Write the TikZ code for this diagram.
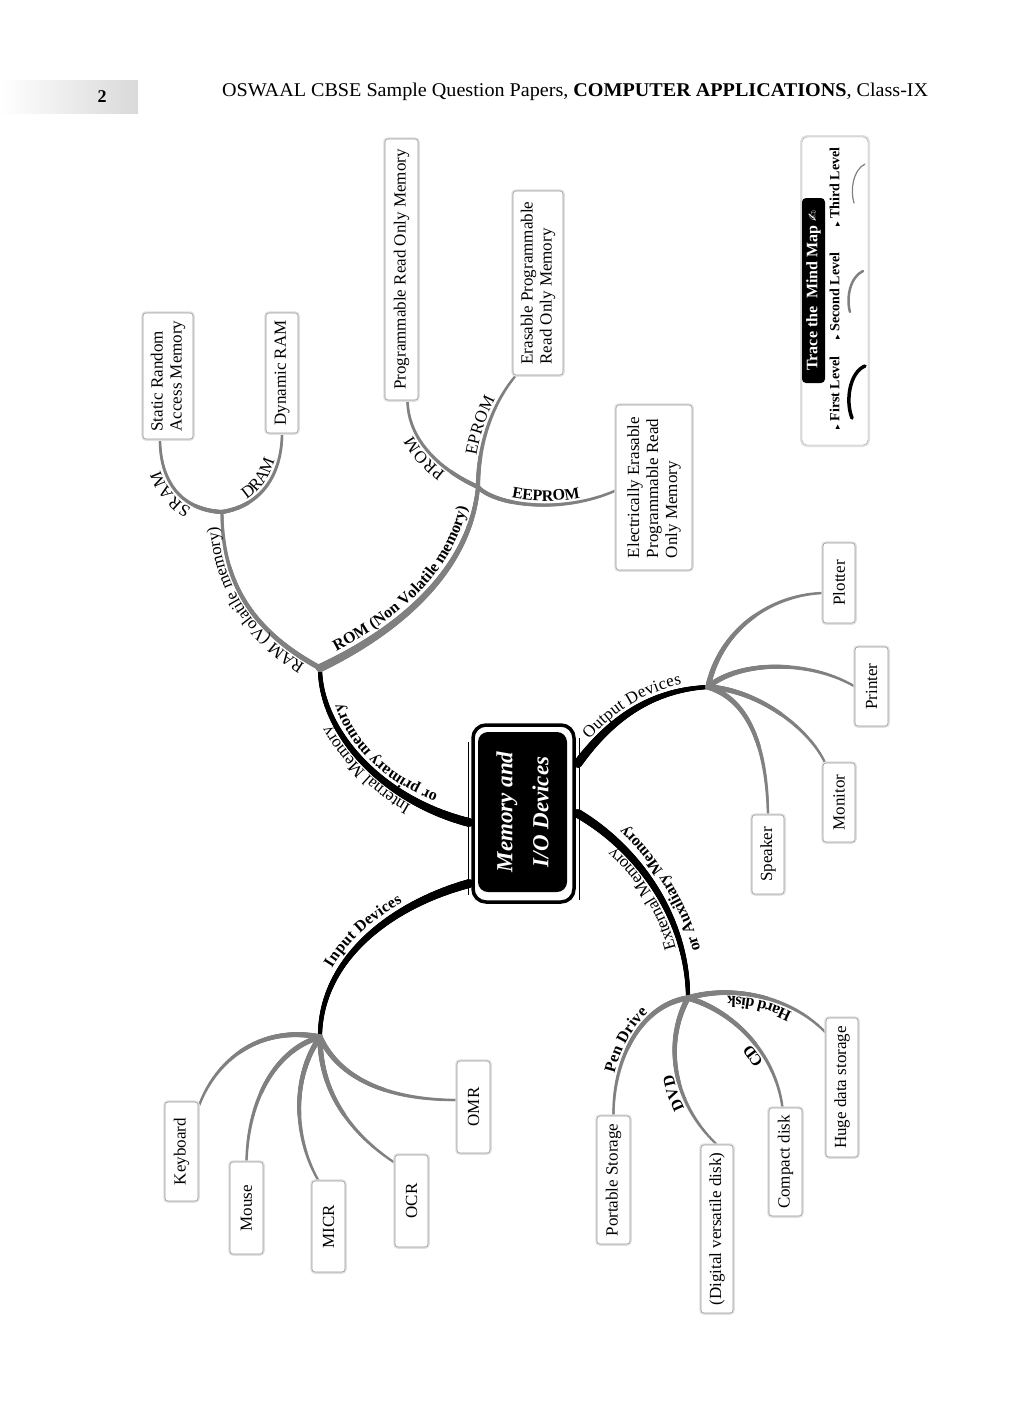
\documentclass[tikz,border=0pt]{standalone}
\usepackage{fontspec}
\usepackage{graphicx}
\setmainfont{Liberation Serif}
\newfontfamily\symfont{DejaVu Sans}
\usetikzlibrary{decorations.text,decorations.markings,calc}
\pgfdeclarelayer{bg}
\pgfsetlayers{bg,main}
\newcommand\lblf{\fontsize{17}{17}\selectfont}
\newcommand\lbld{\bfseries\fontsize{16}{16}\selectfont}
\begin{document}
\begin{tikzpicture}[x=1pt,y=-1pt,
  box/.style={draw=black!40, line width=0.6pt, fill=white, rounded corners=3pt, rotate=90,
    inner sep=0pt, align=center, font=\fontsize{17}{19}\selectfont,
    preaction={draw=black!12, line width=3.5pt}},
  lbox/.style={box, align=left},
  taper/.style n args={3}{decorate, decoration={markings,
      mark=between positions 0 and 1 step 0.8pt with {%
        \pgfmathsetmacro\tprad{#1+(#2-#1)*(\pgfkeysvalueof{/pgf/decoration/mark info/distance from start})/(\pgfdecoratedpathlength)}%
        \fill[#3] (0,0) circle[radius=\tprad pt];}}},
  bbr/.style={taper={4.5}{2.1}{black}},
  gbr/.style={taper={2.7}{1.7}{black!50}},
  rbr/.style={taper={4.2}{2.1}{black!50}},
  tbr/.style={taper={2.2}{1.4}{black!50}},
  fbr/.style={taper={2.8}{1.3}{black!50}},
  pathlbl/.style n args={3}{decorate, decoration={text along path, text={|#1|#2}, text align={center}, raise=#3}},
  pathlblr/.style n args={4}{decorate, decoration={text along path, text={|#1|#2}, text align={center, right indent=#4}, raise=#3}}
]
\useasboundingbox (0,0) rectangle (1024,1401);
\begin{pgfonlayer}{bg}
\fill[white] (0,0) rectangle (1024,1401);
\end{pgfonlayer}

% ---------- header ----------
\shade[left color=white, right color=black!15] (0,80) rectangle (138,113);
\node[font=\bfseries\fontsize{18}{18}\selectfont, inner sep=0, anchor=base] (pgno) at (102,102) {2};
\node[anchor=base west, inner sep=0] (hdr) at (222,96)
  {\resizebox{706pt}{13.5pt}{OSWAAL CBSE Sample Question Papers, \textbf{COMPUTER APPLICATIONS}, Class-IX}};

% ---------- junctions ----------
\coordinate (P1) at (320,668);
\coordinate (P2) at (478,487);
\coordinate (P3) at (222,512);
\coordinate (Q) at (708,687);
\coordinate (R) at (688,998);
\coordinate (S) at (320,1037);

% ---------- centre ----------
\node[draw=black, line width=3.5pt, fill=white, rounded corners=13pt, minimum width=101, minimum height=177, inner sep=0] (center) at (523.5,813.5) {};
\node[fill=black, rounded corners=10pt, minimum width=89, minimum height=160, inner sep=0] (core) at (522.5,812) {};
\node[rotate=90, text=white, align=center, font=\bfseries\itshape\fontsize{23}{36}\selectfont, inner sep=0] (ctext) at (core) {Memory and\\I/O Devices};
\draw[line width=1pt] (468,742) -- (468,895);
\draw[line width=1pt] (579,738) -- (579,900);

% ---------- boxes ----------
\node[lbox, minimum width=126, minimum height=50] (sram) at (168,376) {Static Random\\Access Memory};
\node[box, minimum width=120, minimum height=32] (dram) at (282,373) {Dynamic RAM};
\node[box, minimum width=261, minimum height=33] (prom) at (401.5,269.5) {Programmable Read Only Memory};
\node[lbox, minimum width=184, minimum height=50] (eprom) at (538,283) {Erasable Programmable\\Read Only Memory};
\node[lbox, minimum width=165, minimum height=76] (eeprom) at (654,487.5) {Electrically Erasable\\Programmable Read\\Only Memory};
\node[box, minimum width=80, minimum height=32] (plotter) at (839,583) {Plotter};
\node[box, minimum width=79, minimum height=33] (printer) at (871.5,686.5) {Printer};
\node[box, minimum width=79, minimum height=32] (monitor) at (839,802.5) {Monitor};
\node[box, minimum width=79, minimum height=32] (speaker) at (768,854.5) {Speaker};
\node[box, minimum width=128, minimum height=33] (portable) at (613.5,1180) {Portable Storage};
\node[box, minimum width=168, minimum height=32] (digital) at (717,1229) {(Digital versatile disk)};
\node[box, minimum width=108, minimum height=33] (compact) at (785.5,1162) {Compact disk};
\node[box, minimum width=139, minimum height=32] (huge) at (842,1087.5) {Huge data storage};
\node[box, minimum width=99, minimum height=33] (kbd) at (181.5,1151.5) {Keyboard};
\node[box, minimum width=92, minimum height=33] (mouse) at (246.5,1208) {Mouse};
\node[box, minimum width=91, minimum height=33] (micr) at (328.5,1226.5) {MICR};
\node[box, minimum width=92, minimum height=33] (ocr) at (411.5,1201) {OCR};
\node[box, minimum width=92, minimum height=33] (omr) at (473.5,1107) {OMR};

% attach points
\coordinate (ci) at ($(center.west)+(-2,9)$);
\coordinate (cin) at ($(center.west)+(-2,70)$);
\coordinate (cout) at ($(center.east)+(2,-50)$);
\coordinate (cext) at ($(center.east)+(2,0)$);
\coordinate (sramE) at ($(sram.west)+(-8,0)$);
\coordinate (dramE) at (dram.west);
\coordinate (promE) at ($(prom.west)+(6,0)$);
\coordinate (epromE) at ($(eprom.west)+(-22,0)$);
\coordinate (eepromE) at ($(eeprom.north)+(0,3)$);
\coordinate (plotE) at ($(plotter.north)+(0,10)$);
\coordinate (printE) at (printer.north);
\coordinate (monE) at ($(monitor.east)+(-14,0)$);
\coordinate (spkE) at (speaker.east);
\coordinate (portE) at (portable.east);
\coordinate (digE) at (digital.east);
\coordinate (compE) at ($(compact.east)+(-3,0)$);
\coordinate (hugeE) at ($(huge.north east)+(0,15)$);
\coordinate (kbdE) at ($(kbd.south east)+(0,6)$);
\coordinate (mouseE) at (mouse.east);
\coordinate (micrE) at ($(micr.east)+(-10,0)$);
\coordinate (ocrE) at ($(ocr.north east)+(0,8)$);
\coordinate (omrE) at ($(omr.north)+(0,-7)$);
% baselines (parallel to the branches) for the branch labels
\coordinate (imA) at (466.6,827.8);
\coordinate (imB) at (314,668);
\coordinate (ipA) at (472,805.5);
\coordinate (ipB) at (337,668);
\coordinate (emA) at (682,998);
\coordinate (emB) at (573.9,818.2);
\coordinate (axA) at (707,998);
\coordinate (axB) at (586.7,796.7);
\coordinate (ramA) at (317.8,672);
\coordinate (ramB) at (217.5,512);
\coordinate (romA) at (316.8,661.2);
\coordinate (romB) at (470.5,486.3);

% ---------- connectors ----------
\begin{pgfonlayer}{bg}
\path[bbr] (ci) .. controls (380,800) and (320,730) .. (P1);
\path[bbr] (cin) .. controls (390,905) and (320,960) .. (S);
\path[bbr] (cout) .. controls (610,720) and (650,690) .. (Q);
\path[bbr] (cext) .. controls (640,850) and (688,920) .. (R);
% memory
\path[gbr] (P1) .. controls (250,630) and (222,580) .. (P3);
\path[rbr] (P1) .. controls (400,630) and (470,570) .. (P2);
\path[tbr] (P3) .. controls (180,510) and (160,480) .. (sramE);
\path[tbr] (P3) .. controls (265,505) and (282,470) .. (dramE);
\path[tbr] (P2) .. controls (440,470) and (408,440) .. (promE);
\path[tbr] (P2) .. controls (478,440) and (495,400) .. (epromE);
\path[tbr] (P2) .. controls (495,505) and (560,515) .. (eepromE);
% output
\path[fbr] (Q) .. controls (720,630) and (770,595) .. (plotE);
\path[fbr] (Q) .. controls (740,660) and (810,660) .. (printE);
\path[fbr] (Q) .. controls (760,690) and (810,730) .. (monE);
\path[fbr] (Q) .. controls (750,700) and (767,750) .. (spkE);
% external
\path[fbr] (R) .. controls (640,1005) and (613,1060) .. (portE);
\path[fbr] (R) .. controls (665,1040) and (670,1100) .. (digE);
\path[fbr] (R) .. controls (730,1010) and (775,1050) .. (compE);
\path[fbr] (R) .. controls (730,985) and (790,995) .. (hugeE);
% input
\path[fbr] (S) .. controls (260,1025) and (215,1060) .. (kbdE);
\path[fbr] (S) .. controls (275,1050) and (248,1100) .. (mouseE);
\path[fbr] (S) .. controls (290,1080) and (295,1140) .. (micrE);
\path[fbr] (S) .. controls (320,1100) and (360,1140) .. (ocrE);
\path[fbr] (S) .. controls (340,1080) and (390,1100) .. (omrE);
\end{pgfonlayer}

% ---------- labels along branches ----------
\path[pathlbl={\lblf}{Internal Memory}{0pt}] (imA) .. controls (378.6,805.8) and (314,730) .. (imB);
\path[pathlbl={\lbld}{or primary memory}{0pt}] (ipA) .. controls (384,783.5) and (337,730) .. (ipB);
\path[pathlbl={\lbld}{Input Devices}{7.5pt}] (S) .. controls (320,960) and (390,905) .. (cin);
\path[pathlbl={\lblf}{Output Devices}{6pt}] (cout) .. controls (610,720) and (650,690) .. (Q);
\path[pathlbl={\lblf}{External Memory}{0pt}] (emA) .. controls (682,920) and (636.9,855.2) .. (emB);
\path[pathlbl={\lbld}{or Auxiliary Memory}{0pt}] (axA) .. controls (707,920) and (649.7,833.7) .. (axB);
\path[pathlbl={\lblf}{RAM (Volatile memory)}{0pt}] (ramA) .. controls (247.8,634) and (217.5,580) .. (ramB);
\path[pathlbl={\lbld}{ROM (Non Volatile memory)}{0pt}] (romA) .. controls (396.8,623.2) and (462.5,569.3) .. (romB);
\path[pathlbl={\lblf}{SRAM}{4pt}] (P3) .. controls (180,510) and (160,480) .. (sramE);
\path[pathlbl={\lblf}{DRAM}{4pt}] (P3) .. controls (265,505) and (282,470) .. (dramE);
\path[pathlbl={\lblf}{PROM}{4pt}] (P2) .. controls (440,470) and (408,440) .. (promE);
\path[pathlbl={\lblf}{EPROM}{4pt}] (P2) .. controls (478,440) and (495,400) .. (epromE);
\path[pathlbl={\lbld}{EEPROM}{4pt}] (P2) .. controls (495,505) and (560,515) .. (eepromE);
\path[pathlbl={\lbld}{Pen Drive}{4pt}] (portE) .. controls (613,1060) and (640,1005) .. (R);
\path[pathlblr={\lbld}{DVD}{4pt}{30pt}] (digE) .. controls (670,1100) and (665,1040) .. (R);
\path[pathlblr={\lbld}{CD}{4pt}{30pt}] (compE) .. controls (775,1050) and (730,1010) .. (R);
\path[pathlbl={\lbld}{Hard disk}{4pt}] (hugeE) .. controls (790,995) and (730,985) .. (R);

% ---------- legend ----------
\node[draw=black!35, fill=white, rounded corners=5pt, minimum width=66, minimum height=308, inner sep=0,
  preaction={draw=black!12, line width=4pt}] (legend) at (835,291) {};
\node[fill=black, rounded corners=4pt, rotate=90, minimum width=185, minimum height=23, inner sep=0,
  text=white, font=\bfseries\fontsize{16}{16}\selectfont] (trace) at (813.5,290.5)
  {Trace the\ \ Mind Map\ {\symfont\fontsize{13}{13}\selectfont ✍}};
\node[rotate=90, inner sep=0, font=\bfseries\fontsize{14}{14}\selectfont] (lv1) at (835,393)
  {{\symfont\fontsize{6}{6}\selectfont ▶}\ First Level};
\node[rotate=90, inner sep=0, font=\bfseries\fontsize{14}{14}\selectfont] (lv2) at (835,296)
  {{\symfont\fontsize{6}{6}\selectfont ▶}\ Second Level};
\node[rotate=90, inner sep=0, font=\bfseries\fontsize{14}{14}\selectfont] (lv3) at (835,187)
  {{\symfont\fontsize{6}{6}\selectfont ▶}\ Third Level};
\draw[line width=3.5pt, line cap=round] (865,366) .. controls (850,372) and (845,400) .. (852,418);
\draw[black!50, line width=2.5pt, line cap=round] (863,271) .. controls (850,277) and (846,298) .. (850,312);
\draw[black!50, line width=1.2pt, line cap=round] (865,164) .. controls (853,170) and (850,190) .. (854,203);
\end{tikzpicture}
\end{document}
